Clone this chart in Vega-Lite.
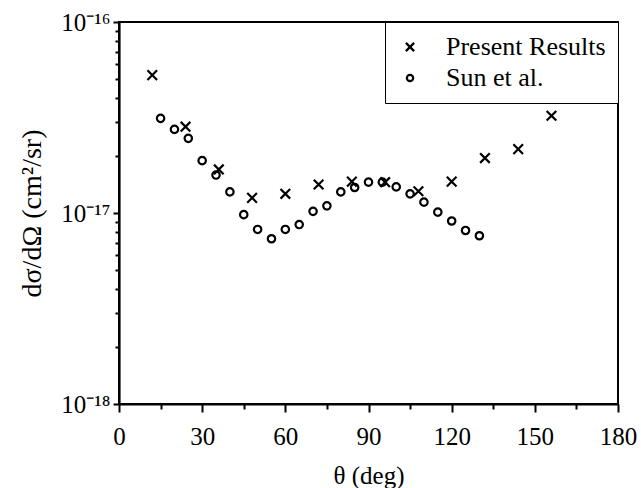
{
  "$schema": "https://vega.github.io/schema/vega-lite/v6.json",
  "width": 499,
  "height": 382,
  "autosize": "none",
  "padding": {"left": 119, "top": 22, "right": 23, "bottom": 84},
  "background": "white",
  "config": {
    "view": {"stroke": "black", "strokeWidth": 2},
    "font": "'Liberation Serif', 'Times New Roman', serif"
  },
  "data": {
    "values": [
      {"theta": 12, "dcs": 5.27e-17, "series": "Present Results"},
      {"theta": 24, "dcs": 2.83e-17, "series": "Present Results"},
      {"theta": 36, "dcs": 1.69e-17, "series": "Present Results"},
      {"theta": 48, "dcs": 1.20e-17, "series": "Present Results"},
      {"theta": 60, "dcs": 1.26e-17, "series": "Present Results"},
      {"theta": 72, "dcs": 1.41e-17, "series": "Present Results"},
      {"theta": 84, "dcs": 1.46e-17, "series": "Present Results"},
      {"theta": 96, "dcs": 1.45e-17, "series": "Present Results"},
      {"theta": 108, "dcs": 1.30e-17, "series": "Present Results"},
      {"theta": 120, "dcs": 1.46e-17, "series": "Present Results"},
      {"theta": 132, "dcs": 1.94e-17, "series": "Present Results"},
      {"theta": 144, "dcs": 2.16e-17, "series": "Present Results"},
      {"theta": 156, "dcs": 3.23e-17, "series": "Present Results"},
      {"theta": 15, "dcs": 3.13e-17, "series": "Sun et al."},
      {"theta": 20, "dcs": 2.74e-17, "series": "Sun et al."},
      {"theta": 25, "dcs": 2.46e-17, "series": "Sun et al."},
      {"theta": 30, "dcs": 1.88e-17, "series": "Sun et al."},
      {"theta": 35, "dcs": 1.58e-17, "series": "Sun et al."},
      {"theta": 40, "dcs": 1.29e-17, "series": "Sun et al."},
      {"theta": 45, "dcs": 9.8e-18, "series": "Sun et al."},
      {"theta": 50, "dcs": 8.2e-18, "series": "Sun et al."},
      {"theta": 55, "dcs": 7.33e-18, "series": "Sun et al."},
      {"theta": 60, "dcs": 8.2e-18, "series": "Sun et al."},
      {"theta": 65, "dcs": 8.7e-18, "series": "Sun et al."},
      {"theta": 70, "dcs": 1.02e-17, "series": "Sun et al."},
      {"theta": 75, "dcs": 1.09e-17, "series": "Sun et al."},
      {"theta": 80, "dcs": 1.29e-17, "series": "Sun et al."},
      {"theta": 85, "dcs": 1.36e-17, "series": "Sun et al."},
      {"theta": 90, "dcs": 1.45e-17, "series": "Sun et al."},
      {"theta": 95, "dcs": 1.45e-17, "series": "Sun et al."},
      {"theta": 100, "dcs": 1.37e-17, "series": "Sun et al."},
      {"theta": 105, "dcs": 1.26e-17, "series": "Sun et al."},
      {"theta": 110, "dcs": 1.14e-17, "series": "Sun et al."},
      {"theta": 115, "dcs": 1.01e-17, "series": "Sun et al."},
      {"theta": 120, "dcs": 9.08e-18, "series": "Sun et al."},
      {"theta": 125, "dcs": 8.1e-18, "series": "Sun et al."},
      {"theta": 130, "dcs": 7.6e-18, "series": "Sun et al."}
    ]
  },
  "mark": {"type": "point", "filled": false, "strokeWidth": 2.2, "color": "black", "opacity": 1, "size": 55},
  "encoding": {
    "x": {
      "field": "theta", "type": "quantitative",
      "scale": {"domain": [0, 180], "nice": false, "zero": false},
      "axis": {
        "title": "θ (deg)",
        "titleFont": "'Liberation Serif', 'Times New Roman', serif", "titleFontSize": 25, "titleFontWeight": "normal", "titleColor": "black",
        "titlePadding": 14,
        "values": [0, 15, 30, 45, 60, 75, 90, 105, 120, 135, 150, 165, 180],
        "labelExpr": "datum.value % 30 == 0 ? datum.label : ''",
        "labelFont": "'Liberation Serif', 'Times New Roman', serif", "labelFontSize": 25, "labelColor": "black",
        "labelPadding": 12, "labelFlush": false,
        "grid": false,
        "domainColor": "black", "domainWidth": 2.2,
        "tickColor": "black", "tickWidth": 2,
        "tickSize": {"condition": {"test": "datum.value % 30 == 0", "value": 8}, "value": 5}
      }
    },
    "y": {
      "field": "dcs", "type": "quantitative",
      "scale": {"type": "log", "domain": [1e-18, 1e-16], "nice": false},
      "axis": {
        "title": "dσ/dΩ (cm²/sr)",
        "titleFont": "'Liberation Serif', 'Times New Roman', serif", "titleFontSize": 28, "titleFontWeight": "normal", "titleColor": "black",
        "titlePadding": 14,
        "values": [1e-18, 2e-18, 3e-18, 4e-18, 5e-18, 6e-18, 7e-18, 8e-18, 9e-18, 1e-17, 2e-17, 3e-17, 4e-17, 5e-17, 6e-17, 7e-17, 8e-17, 9e-17, 1e-16],
        "labelExpr": "datum.value < 1.5e-18 ? '10⁻¹⁸' : (abs(datum.value - 1e-17) < 1e-19 ? '10⁻¹⁷' : (datum.value > 9.5e-17 ? '10⁻¹⁶' : ''))",
        "labelFont": "'Liberation Serif', 'Times New Roman', serif", "labelFontSize": 25, "labelColor": "black",
        "labelPadding": 3,
        "grid": false,
        "domainColor": "black", "domainWidth": 2.2,
        "tickColor": "black", "tickWidth": 2,
        "tickSize": {"condition": {"test": "datum.value < 1.5e-18 || abs(datum.value - 1e-17) < 1e-19 || datum.value > 9.5e-17", "value": 6}, "value": 4}
      }
    },
    "shape": {
      "field": "series", "type": "nominal",
      "scale": {"domain": ["Present Results", "Sun et al."], "range": ["M-1.3,-1.3L1.3,1.3M1.3,-1.3L-1.3,1.3", "circle"]},
      "legend": {
        "title": null,
        "orient": "top-right",
        "offset": 0,
        "strokeColor": "black",
        "fillColor": "white",
        "padding": 12,
        "labelFont": "'Liberation Serif', 'Times New Roman', serif", "labelFontSize": 26, "labelColor": "black",
        "labelOffset": 23,
        "symbolOffset": 0,
        "rowPadding": 5,
        "symbolStrokeColor": "black",
        "symbolStrokeWidth": 2.2,
        "symbolSize": 40,
        "symbolFillColor": "transparent"
      }
    }
  }
}
